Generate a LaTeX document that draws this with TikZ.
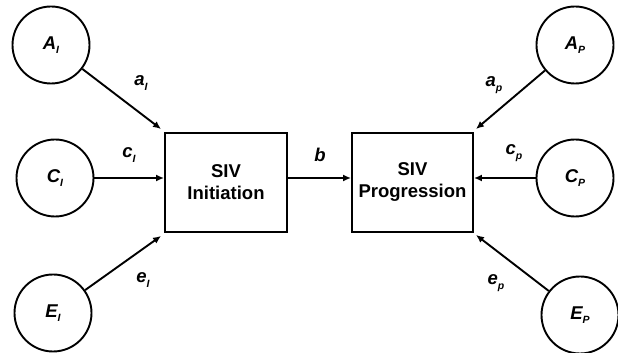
\documentclass[tikz,border=0pt]{standalone}
\usepackage{fontspec}
\setmainfont{Liberation Sans}
\usetikzlibrary{arrows.meta,calc}
\newcommand{\lbl}[2]{{\bfseries\itshape #1\raisebox{-0.45ex}{\fontsize{10.5}{10.5}\selectfont #2}}}
\begin{document}
\begin{tikzpicture}[x=1pt,y=1pt,
  every node/.style={font=\fontsize{18.5}{22}\selectfont},
  factor/.style={draw,circle,line width=1.9pt,minimum size=77pt,inner sep=0pt},
  stage/.style={draw,rectangle,line width=1.9pt,minimum width=122pt,minimum height=99pt,align=center,font=\fontsize{18.5}{22}\selectfont\bfseries},
  link/.style={line width=1.9pt,-{Latex[length=8pt,width=7pt]}},
  elabel/.style={inner sep=0pt}]
\useasboundingbox (0,0) rectangle (618,353);
\node[factor] (AI) at (51,308) {\lbl{A}{I}};
\node[factor] (CI) at (55,175) {\lbl{C}{I}};
\node[factor] (EI) at (53,40) {\lbl{E}{I}};
\node[factor] (AP) at (575,308) {\lbl{A}{P}};
\node[factor] (CP) at (575,175) {\lbl{C}{P}};
\node[factor] (EP) at (580,38) {\lbl{E}{P}};
\node[stage] (ini) at (226,170.5) {SIV\\Initiation};
\node[stage,minimum width=121pt] (prog) at (412.5,170.5) {SIV\\Progression};
\coordinate (aiend) at ($(ini.north west)+(-3,3)$);
\coordinate (eiend) at ($(ini.south west)+(-3,-3)$);
\coordinate (apend) at ($(prog.north east)+(2,3)$);
\coordinate (epend) at ($(prog.south east)+(2,-2)$);
\draw[link] (AI) -- (aiend);
\draw[link] (CI.east) -- (CI.east -| ini.west);
\draw[link] (EI) -- (eiend);
\draw[link] (ini.east |- CI.east) -- (prog.west |- CI.east);
\draw[link] (AP) -- (apend);
\draw[link] (CP.west) -- (CP.west -| prog.east);
\draw[link] (EP) -- (epend);
\node[elabel] (la) at (141,270) {\lbl{a}{I}};
\node[elabel] (lc) at (129,198) {\lbl{c}{I}};
\node[elabel] (le) at (143,73) {\lbl{e}{I}};
\node[elabel] (lb) at (320,196) {\lbl{b}{}};
\node[elabel] (lap) at (494,268) {\lbl{a}{p}};
\node[elabel] (lcp) at (514,200) {\lbl{c}{p}};
\node[elabel] (lep) at (496,70) {\lbl{e}{p}};
\end{tikzpicture}
\end{document}
